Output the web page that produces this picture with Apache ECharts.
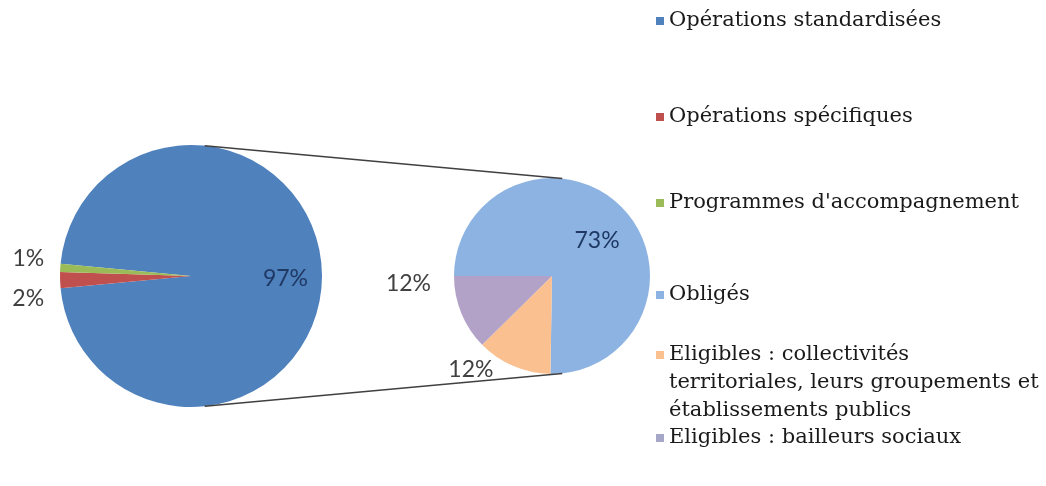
<!DOCTYPE html>
<html>
<head>
<meta charset="utf-8">
<script src="https://cdn.jsdelivr.net/npm/echarts@6/dist/echarts.min.js"></script>
<style>
html,body{margin:0;padding:0;background:#fff;}
#chart{width:1046px;height:486px;}
</style>
</head>
<body>
<div id="chart"></div>
<script>
// ---- data ----
const mainNames = ['Opérations standardisées', 'Opérations spécifiques', "Programmes d'accompagnement"];
const mainValues = [97, 2, 1];
const subNames = ['Obligés', 'Eligibles : collectivités territoriales, leurs groupements et établissements publics', 'Eligibles : bailleurs sociaux'];
const subValues = [73, 12, 12];

// ---- styles ----
const mainColors = ['#4F81BD', '#C0504D', '#9BBB59'];
const subColors = ['#8DB3E2', '#FAC090', '#B3A2C7'];
const labelFont = 'Lato';
const legendFont = 'DejaVu Serif';

const L = {cx: 191, cy: 276, r: 131};
const R = {cx: 552, cy: 276, r: 98};

const chart = echarts.init(document.getElementById('chart'));

const mainLabelCfg = [
  {position: 'inside', color: '#1F3864', offset: [26, 3]},
  {position: 'outside', color: '#404040', offset: [3, 18]},
  {position: 'outside', color: '#404040', offset: [3, -9]}
];
const subLabelCfg = [
  {position: 'inside', color: '#1F3864', offset: [8, 1]},
  {position: 'outside', color: '#404040', offset: [-7, -6]},
  {position: 'outside', color: '#404040', offset: [-12, -33]}
];

const mainData = mainNames.map((n, i) => ({
  name: n, value: mainValues[i],
  itemStyle: {color: mainColors[i]},
  label: Object.assign({show: true}, mainLabelCfg[i])
}));
const subData = subNames.map((n, i) => ({
  name: n, value: subValues[i],
  itemStyle: {color: subColors[i]},
  label: Object.assign({show: true}, subLabelCfg[i])
}));

// connector lines
function pt(c, deg) {
  const a = deg * Math.PI / 180;
  return [c.cx + c.r * Math.cos(a), c.cy - c.r * Math.sin(a)];
}
const lt = pt(L, 84), lb = pt(L, -84), rt = pt(R, 84), rb = pt(R, -84);

const legendTops = [7, 103, 189, 281, 341, 424];
const allNames = mainNames.concat(subNames);
const allColors = mainColors.concat(['#8DB3E2', '#FAC090', '#A6A6C8']);
const baseText = {fontFamily: legendFont, fontSize: 21, color: '#1a1a1a', lineHeight: 28};
// square marker at the top of a tall icon box, so it sits beside the first line of a 3-line label
const tallIcon = 'path://M0,0L8,0L8,8L0,8Z M7.99,63.99L8,63.99L8,64L7.99,64Z';
const legends = allNames.map((n, i) => ({
  data: [n],
  left: 656, top: legendTops[i], padding: 0,
  orient: 'vertical',
  icon: i === 4 ? tallIcon : 'rect',
  itemWidth: 8, itemHeight: i === 4 ? 64 : 8, itemGap: 0,
  symbolKeepAspect: false,
  selectedMode: false,
  formatter: (name) => name === subNames[1] ? 'Eligibles : collectivités\nterritoriales, leurs groupements et\nétablissements publics' : name,
  textStyle: baseText,
  itemStyle: {color: allColors[i]}
}));

chart.setOption({
  animation: false,
  backgroundColor: '#fff',
  legend: legends,
  graphic: [
    {type: 'line', shape: {x1: lt[0], y1: lt[1], x2: rt[0], y2: rt[1]}, style: {stroke: '#404040', lineWidth: 1.5}, z: 10},
    {type: 'line', shape: {x1: lb[0], y1: lb[1], x2: rb[0], y2: rb[1]}, style: {stroke: '#404040', lineWidth: 1.5}, z: 10}
  ],
  series: [
    {
      type: 'pie', center: [L.cx, L.cy], radius: L.r,
      startAngle: 180 - (mainValues[1] + mainValues[2]) / 2 * 3.6,
      clockwise: true,
      label: {fontFamily: labelFont, fontSize: 23, formatter: '{c}%'},
      labelLine: {show: false, length: 10, length2: 4},
      avoidLabelOverlap: false,
      emphasis: {disabled: true},
      itemStyle: {borderWidth: 0},
      data: mainData
    },
    {
      type: 'pie', center: [R.cx, R.cy], radius: R.r,
      startAngle: 180, clockwise: true,
      label: {fontFamily: labelFont, fontSize: 23, formatter: '{c}%'},
      labelLine: {show: false, length: 10, length2: 4},
      avoidLabelOverlap: false,
      emphasis: {disabled: true},
      itemStyle: {borderWidth: 0},
      data: subData
    }
  ]
});
</script>
</body>
</html>
